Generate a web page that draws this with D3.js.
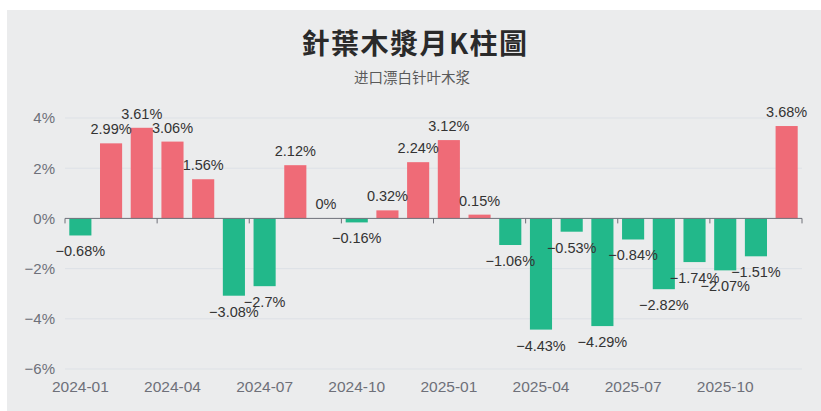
<!DOCTYPE html>
<html>
<head>
<meta charset="utf-8">
<script src="https://cdn.jsdelivr.net/npm/d3@7"></script>
<style>
  html, body { margin: 0; padding: 0; background: #fff; }
  svg { display: block; }
</style>
</head>
<body>
<script>
// monthly change, %
const months = ["2024-01","2024-02","2024-03","2024-04","2024-05","2024-06","2024-07","2024-08","2024-09","2024-10","2024-11","2024-12",
                "2025-01","2025-02","2025-03","2025-04","2025-05","2025-06","2025-07","2025-08","2025-09","2025-10","2025-11","2025-12"];
const changes = [-0.68, 2.99, 3.61, 3.06, 1.56, -3.08, -2.7, 2.12, 0, -0.16, 0.32, 2.24,
                 3.12, 0.15, -1.06, -4.43, -0.53, -4.29, -0.84, -2.82, -1.74, -2.07, -1.51, 3.68];
const yTicks = [-6, -4, -2, 0, 2, 4];
const title = "針葉木漿月K柱圖";
const subtitle = "进口漂白针叶木浆";

const width = 821, height = 411;
const margin = {top: 118, right: 19, bottom: 42, left: 65};

const data = months.map(function(m, i){ return {month: m, value: changes[i]}; });

const svg = d3.select("body").append("svg")
    .attr("width", width)
    .attr("height", height)
    .style("font-family", "'Liberation Sans', Arial, sans-serif");

svg.append("rect")
    .attr("x", 7).attr("y", 10)
    .attr("width", width - 7).attr("height", height - 10)
    .attr("fill", "#ebeced");

svg.append("text")
    .attr("x", 415).attr("y", 54)
    .attr("text-anchor", "middle")
    .style("font-family", "'Noto Sans CJK TC', 'Noto Sans CJK SC', sans-serif")
    .style("font-size", "28px")
    .style("font-weight", "bold")
    .style("letter-spacing", "1.5px")
    .attr("fill", "#2a2a2a")
    .text(title);

svg.append("text")
    .attr("x", 412).attr("y", 83)
    .attr("text-anchor", "middle")
    .style("font-family", "'Noto Sans CJK SC', sans-serif")
    .style("font-size", "14.5px")
    .attr("fill", "#5a5a5a")
    .text(subtitle);

const x = d3.scaleBand()
    .domain(months)
    .range([margin.left, width - margin.right])
    .paddingInner(0.28)
    .paddingOuter(0.14);

const y = d3.scaleLinear()
    .domain([-6, 4])
    .range([height - margin.bottom, margin.top]);

// grid
svg.append("g")
    .selectAll("line")
    .data(yTicks.filter(function(d){ return d !== 0; }))
    .join("line")
    .attr("x1", margin.left).attr("x2", width - margin.right)
    .attr("y1", function(d){ return y(d); }).attr("y2", function(d){ return y(d); })
    .attr("stroke", "#dde1e6")
    .attr("stroke-width", 1);

// y labels
svg.append("g")
    .attr("transform", "translate(" + margin.left + ",0)")
    .call(d3.axisLeft(y).tickValues(yTicks).tickSize(0).tickPadding(10)
        .tickFormat(function(d){ return d3.format("d")(d) + "%"; }))
    .call(function(g){ g.select(".domain").remove(); })
    .call(function(g){
        g.selectAll("text")
            .attr("fill", "#6e7079")
            .style("font-size", "15px")
            .style("font-family", "'Liberation Sans', Arial, sans-serif");
    });

// bars
svg.append("g")
    .selectAll("rect")
    .data(data)
    .join("rect")
    .attr("x", function(d){ return x(d.month); })
    .attr("width", x.bandwidth())
    .attr("y", function(d){ return Math.min(y(d.value), y(0)); })
    .attr("height", function(d){ return Math.abs(y(d.value) - y(0)); })
    .attr("fill", function(d){ return d.value >= 0 ? "#ef6b77" : "#22b88a"; });

// zero axis with boundary ticks
const step = x.step();
const boundaries = d3.range(0, months.length + 1, 3);
const zero = svg.append("g");
zero.append("line")
    .attr("x1", margin.left).attr("x2", width - margin.right)
    .attr("y1", y(0)).attr("y2", y(0))
    .attr("stroke", "#6e7079").attr("stroke-width", 1);
zero.selectAll(".tk")
    .data(boundaries)
    .join("line")
    .attr("class", "tk")
    .attr("x1", function(i){ return margin.left + i * step; })
    .attr("x2", function(i){ return margin.left + i * step; })
    .attr("y1", y(0)).attr("y2", y(0) + 5)
    .attr("stroke", "#6e7079").attr("stroke-width", 1);

// x labels
svg.append("g")
    .attr("transform", "translate(0," + y(-6) + ")")
    .call(d3.axisBottom(x)
        .tickValues(months.filter(function(d, i){ return i % 3 === 0; }))
        .tickSize(0).tickPadding(12))
    .call(function(g){ g.select(".domain").remove(); })
    .call(function(g){
        g.selectAll("text")
            .attr("fill", "#6e7079")
            .style("font-size", "15.5px")
            .style("font-family", "'Liberation Sans', Arial, sans-serif");
    });

// value labels
svg.append("g")
    .selectAll("text")
    .data(data)
    .join("text")
    .attr("x", function(d){ return x(d.month) + x.bandwidth() / 2; })
    .attr("y", function(d){ return d.value >= 0 ? y(d.value) - 9 : y(d.value) + 21; })
    .attr("text-anchor", "middle")
    .attr("fill", "#333")
    .style("font-size", "14.5px")
    .text(function(d){ return (d.value < 0 ? "\u2212" : "") + Math.abs(d.value) + "%"; });
</script>
</body>
</html>
